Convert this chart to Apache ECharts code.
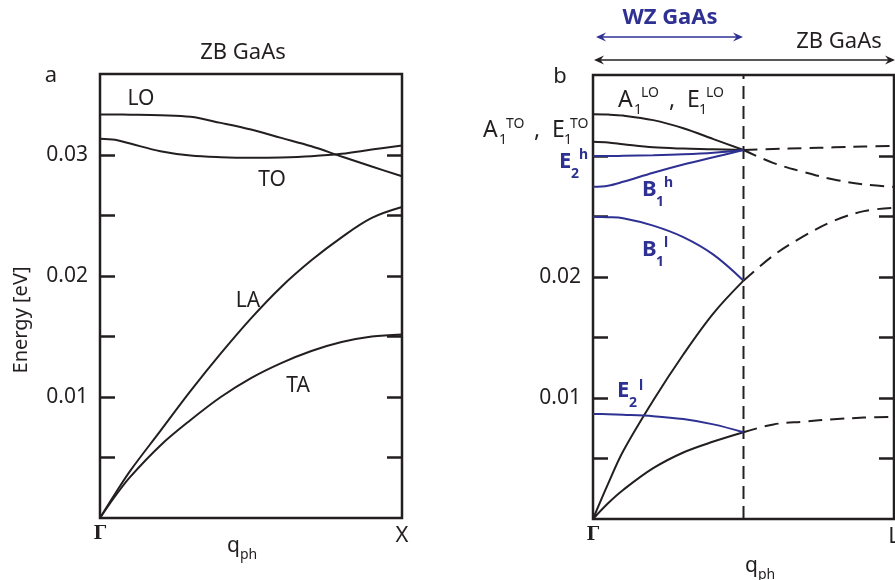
<!DOCTYPE html>
<html>
<head>
<meta charset="utf-8">
<script src="https://cdn.jsdelivr.net/npm/echarts@6/dist/echarts.min.js"></script>
<style>
html, body { margin: 0; padding: 0; background: #fff; }
#chart { width: 895px; height: 580px; }
</style>
</head>
<body>
<div id="chart"></div>
<script>
// ---- Panel a: zinc-blende GaAs, Γ → X ----
const qA  = [0, 0.05, 0.1, 0.2, 0.3, 0.4, 0.5, 0.6, 0.7, 0.8, 0.9, 1];
const loA = [0.03335, 0.03335, 0.03334, 0.03329, 0.03316, 0.03266, 0.03211, 0.03142, 0.03073, 0.02988, 0.02905, 0.02825];
const toA = [0.03135, 0.03126, 0.03095, 0.03032, 0.02996, 0.02982, 0.02977, 0.02980, 0.02990, 0.03010, 0.03045, 0.03079];
const laA = [0, 0.0020, 0.0039, 0.0072, 0.0105, 0.0136, 0.0165, 0.0191, 0.0213, 0.0232, 0.0248, 0.0257];
const taA = [0, 0.0018, 0.0034, 0.0060, 0.0081, 0.0100, 0.01156, 0.0128, 0.0138, 0.01454, 0.0150, 0.01517];

// ---- Panel b: wurtzite GaAs (solid) and folded zinc-blende branches (dashed), Γ → L ----
const wzBoundary = 0.5;
const qWZ = [0, 0.05, 0.1, 0.2, 0.3, 0.4, 0.5];
const a1loWZ = [0.03345, 0.03343, 0.03335, 0.03297, 0.03230, 0.03140, 0.0305];
const a1toWZ = [0.03118, 0.03112, 0.03098, 0.03072, 0.03062, 0.03057, 0.0305];
const e2hWZ  = [0.03000, 0.03000, 0.03002, 0.03007, 0.03015, 0.03028, 0.0305];
const b1hWZ  = [0.02746, 0.02755, 0.02787, 0.02862, 0.02930, 0.02990, 0.0305];
const b1lWZ  = [0.02498, 0.02495, 0.02486, 0.02425, 0.02330, 0.02185, 0.0197];
const laWZ   = [0, 0.0029, 0.0056, 0.0098, 0.0136, 0.0170, 0.0197];
const taWZ   = [0, 0.0013, 0.0024, 0.0042, 0.0055, 0.0064, 0.00717];
const e2lWZ  = [0.00868, 0.00866, 0.00862, 0.00850, 0.00826, 0.00782, 0.00717];

const qZB = [0.5, 0.6, 0.7, 0.8, 0.9, 1];
const toZB = [0.0305, 0.03058, 0.03065, 0.03072, 0.03078, 0.03083];
const loZB = [0.0305, 0.02942, 0.02868, 0.02806, 0.02766, 0.02746];
const laZB = [0.0197, 0.0218, 0.02338, 0.02465, 0.02545, 0.02573];
const taZB = [0.00717, 0.00782, 0.00805, 0.00825, 0.00838, 0.00845];

// ---- Axes ----
const energyMax = 0.0367;
const yTicks = [0.005, 0.01, 0.015, 0.02, 0.025, 0.03];
const yLabelsA = [0.01, 0.02, 0.03];
const yLabelsB = [0.01, 0.02];
const xEndsA = ['Γ', 'X'];
const xEndsB = ['Γ', 'L'];

const INK = '#231f20';
const BLUE = '#2e3192';
const FONT = '"Noto Sans", "Open Sans", sans-serif';

const zip = (xs, ys) => xs.map((x, i) => [x, ys[i]]);

function curve(name, grid, xs, ys, color, dashed) {
  return {
    name, type: 'line', xAxisIndex: grid, yAxisIndex: grid * 2,
    data: zip(xs, ys), smooth: 0.35, showSymbol: false, silent: true,
    lineStyle: { color, width: 2, type: dashed ? [14, 8] : 'solid' },
    z: dashed ? 3 : 4
  };
}

function xAxisFor(grid, ends) {
  return {
    gridIndex: grid, type: 'value', min: 0, max: 1,
    axisLine: { show: false }, axisTick: { show: false }, splitLine: { show: false },
    axisLabel: {
      customValues: [0, 1], margin: 7,
      formatter: v => v === 0 ? '{g|' + ends[0] + '}' : '{n|' + ends[1] + '}',
      rich: {
        g: { fontFamily: '"DejaVu Serif", "Liberation Serif", serif', fontSize: 18, fontWeight: 'bold', color: INK },
        n: { fontFamily: FONT, fontSize: 22, color: INK }
      }
    }
  };
}

function yAxisFor(grid, side, labels) {
  return {
    gridIndex: grid, type: 'value', min: 0, max: energyMax, position: side,
    axisLine: { show: false }, splitLine: { show: false },
    axisTick: { inside: true, length: 15, customValues: yTicks, lineStyle: { color: INK, width: 2.5 } },
    axisLabel: labels ? {
      customValues: labels, margin: 12, fontFamily: FONT, fontSize: 21, color: INK,
      formatter: v => v.toFixed(2)
    } : { show: false }
  };
}

// text helpers
function txt(x, y, s, size, opt) {
  opt = opt || {};
  return {
    type: 'text', x, y, rotation: opt.rot || 0, silent: true,
    style: {
      text: s, fontFamily: FONT, fontSize: size, fontWeight: opt.bold ? 'bold' : 'normal',
      fill: opt.color || INK, textAlign: opt.align || 'left', textVerticalAlign: 'middle'
    }
  };
}

function arrow(x1, x2, y, color, w) {
  const h = 4.5, L = 10, n = 6.5;
  return [
    { type: 'line', silent: true, shape: { x1: x1 + 4, y1: y, x2: x2 - 4, y2: y }, style: { stroke: color, lineWidth: w } },
    { type: 'polygon', silent: true, shape: { points: [[x2, y], [x2 - L, y - h], [x2 - n, y], [x2 - L, y + h]] }, style: { fill: color } },
    { type: 'polygon', silent: true, shape: { points: [[x1, y], [x1 + L, y - h], [x1 + n, y], [x1 + L, y + h]] }, style: { fill: color } }
  ];
}

const graphics = [
  // panel a
  txt(243, 53, 'ZB GaAs', 22, { align: 'center' }),
  txt(51, 76, 'a', 22, { align: 'center' }),
  txt(141, 99, 'LO', 21, { align: 'center' }),
  txt(272, 180, 'TO', 21, { align: 'center' }),
  txt(248, 301, 'LA', 21, { align: 'center' }),
  txt(298, 386, 'TA', 21, { align: 'center' }),
  txt(21, 320, 'Energy [eV]', 20, { align: 'center', rot: Math.PI / 2 }),
  txt(227, 546, 'q', 21),
  txt(240, 555, 'ph', 14),

  // panel b
  txt(670, 18, 'WZ GaAs', 22, { align: 'center', bold: true, color: BLUE }),
  txt(839, 42, 'ZB GaAs', 22, { align: 'center' }),
  txt(560, 77, 'b', 22, { align: 'center' }),
  txt(745, 566, 'q', 21),
  txt(758, 575, 'ph', 14),

  // A1(LO), E1(LO)
  txt(618, 100, 'A', 23), txt(634, 110, '1', 14), txt(641, 93, 'LO', 14),
  txt(669, 100, ',', 23),
  txt(687, 100, 'E', 23), txt(699, 110, '1', 14), txt(706, 93, 'LO', 14),
  // A1(TO), E1(TO)
  txt(483, 130, 'A', 23), txt(499, 140, '1', 14), txt(506, 124, 'TO', 14),
  txt(534, 130, ',', 23),
  txt(552, 130, 'E', 23), txt(564, 140, '1', 14), txt(570, 124, 'TO', 14),
  // blue wurtzite modes
  txt(559, 162, 'E', 22, { bold: true, color: BLUE }), txt(571, 174, '2', 14, { bold: true, color: BLUE }), txt(579, 155, 'h', 14, { bold: true, color: BLUE }),
  txt(642, 190, 'B', 22, { bold: true, color: BLUE }), txt(656, 202, '1', 14, { bold: true, color: BLUE }), txt(664, 183, 'h', 14, { bold: true, color: BLUE }),
  txt(642, 250, 'B', 22, { bold: true, color: BLUE }), txt(656, 262, '1', 14, { bold: true, color: BLUE }), txt(664, 243, 'l', 14, { bold: true, color: BLUE }),
  txt(617, 391, 'E', 22, { bold: true, color: BLUE }), txt(629, 403, '2', 14, { bold: true, color: BLUE }), txt(639, 386, 'l', 14, { bold: true, color: BLUE })
].concat(arrow(596, 743, 37, BLUE, 1.3), arrow(594, 895, 60, INK, 1.5));

const chart = echarts.init(document.getElementById('chart'), null, { renderer: 'canvas' });
chart.setOption({
  backgroundColor: '#fff',
  animation: false,
  grid: [
    { left: 100, top: 74, width: 302, height: 444, containLabel: false, outerBoundsMode: 'none',
      show: true, borderColor: INK, borderWidth: 2.5, backgroundColor: 'transparent' },
    { left: 593, top: 75, width: 301, height: 444, containLabel: false, outerBoundsMode: 'none',
      show: true, borderColor: INK, borderWidth: 2.5, backgroundColor: 'transparent' }
  ],
  xAxis: [xAxisFor(0, xEndsA), xAxisFor(1, xEndsB)],
  yAxis: [
    yAxisFor(0, 'left', yLabelsA), yAxisFor(0, 'right', null),
    yAxisFor(1, 'left', yLabelsB), yAxisFor(1, 'right', null)
  ],
  series: [
    curve('LO', 0, qA, loA, INK),
    curve('TO', 0, qA, toA, INK),
    curve('LA', 0, qA, laA, INK),
    curve('TA', 0, qA, taA, INK),

    curve('A1/E1 LO', 1, qWZ, a1loWZ, INK),
    curve('A1/E1 TO', 1, qWZ, a1toWZ, INK),
    curve('E2 high', 1, qWZ, e2hWZ, BLUE),
    curve('B1 high', 1, qWZ, b1hWZ, BLUE),
    curve('B1 low', 1, qWZ, b1lWZ, BLUE),
    curve('LA (WZ)', 1, qWZ, laWZ, INK),
    curve('TA (WZ)', 1, qWZ, taWZ, INK),
    curve('E2 low', 1, qWZ, e2lWZ, BLUE),

    curve('TO (ZB)', 1, qZB, toZB, INK, true),
    curve('LO (ZB)', 1, qZB, loZB, INK, true),
    curve('LA (ZB)', 1, qZB, laZB, INK, true),
    curve('TA (ZB)', 1, qZB, taZB, INK, true),

    {
      name: 'WZ/ZB boundary', type: 'line', xAxisIndex: 1, yAxisIndex: 2, silent: true,
      data: [[wzBoundary, 0], [wzBoundary, energyMax]], showSymbol: false,
      lineStyle: { color: INK, width: 2, type: [13, 7] }, z: 2
    }
  ],
  graphic: graphics
});
</script>
</body>
</html>
